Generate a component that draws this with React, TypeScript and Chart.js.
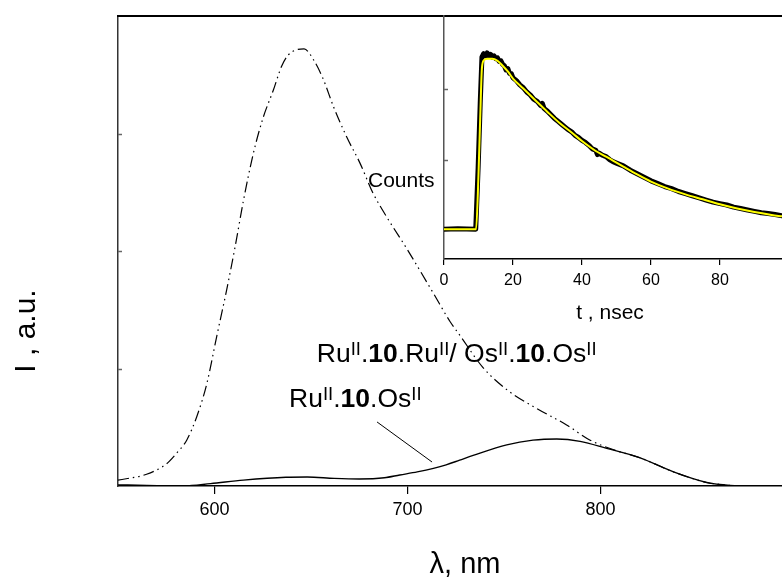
import React, { useEffect, useRef } from 'react';
import { Chart, registerables } from 'chart.js';
Chart.register(...registerables);

const FONT = '"Liberation Sans", Arial, Helvetica, sans-serif';

// Main spectrum: Ru(II).10.Ru(II) / Os(II).10.Os(II) mixture (dash-dot-dot)
const mixWavelength = [550, 564.8, 575.2, 580.4, 585.6, 590.8, 596, 601.1, 606.3, 610.6, 615, 620.1, 625.3, 630.5, 634.7, 638.3, 646.4, 651.2, 656.4, 661.6, 668.5, 675.3, 682.2, 689.2, 699.6, 713.4, 722, 727.2, 739, 751.4, 766.9, 782.4, 794.6, 808.3, 820.5, 837.8, 855, 867];
const mixIntensity = [0.05, 0.10, 0.19, 0.28, 0.39, 0.59, 0.87, 1.27, 1.67, 2.03, 2.43, 2.83, 3.14, 3.37, 3.57, 3.67, 3.72, 3.63, 3.46, 3.23, 2.97, 2.75, 2.49, 2.29, 2.02, 1.64, 1.40, 1.28, 1.01, 0.82, 0.66, 0.52, 0.39, 0.30, 0.24, 0.12, 0.03, 0.005];

// Main spectrum: Ru(II).10.Os(II) (solid)
const ruOsWavelength = [550, 565, 584, 598, 615, 637, 648, 662, 675, 688, 696, 705, 713.4, 720, 727, 734, 751.4, 765, 777.3, 789.4, 803.2, 820.5, 837.8, 855, 867, 880, 894];
const ruOsIntensity = [0.01, 0.005, 0.0, 0.02, 0.05, 0.074, 0.076, 0.065, 0.06, 0.07, 0.094, 0.12, 0.15, 0.18, 0.22, 0.26, 0.35, 0.39, 0.40, 0.38, 0.32, 0.24, 0.12, 0.03, 0.005, 0, 0];

const mainXTicks = [600, 700, 800];
const mainYTicks = [1, 2, 3];

// Inset: decay, fit (yellow)
const fitTime = [0, 9.3, 10, 10.5, 11, 11.6, 12.5, 14, 15.5, 17, 18.5, 20, 23, 27, 30, 33.6, 37, 40, 44, 47, 52, 56, 60, 65, 70, 75, 80, 85, 90, 95, 98];
const fitCounts = [0.03, 0.03, 0.8, 1.6, 2.3, 2.41, 2.43, 2.43, 2.40, 2.33, 2.25, 2.15, 2.01, 1.82, 1.68, 1.52, 1.39, 1.27, 1.13, 1.05, 0.91, 0.80, 0.70, 0.60, 0.52, 0.45, 0.38, 0.32, 0.27, 0.23, 0.21];

// Inset: decay, measured counts (black)
const dataTime = [0, 4, 9.2, 9.9, 10.5, 11, 11.5, 12, 12.5, 13, 13.5, 14, 14.5, 15, 15.5, 16, 16.5, 17, 17.5, 18, 18.5, 19, 19.5, 20, 21, 22, 23, 24, 25, 26, 27, 28, 28.5, 29, 30, 31, 32, 33, 34, 35, 36, 37, 38, 39, 40, 41, 42, 43, 44, 44.5, 45, 46, 47, 48, 49, 50, 52, 54, 56, 58, 60, 62, 64, 66, 68, 70, 72, 74, 76, 78, 80, 82, 84, 86, 88, 90, 92, 94, 96, 98];
const dataCounts = [0.03, 0.035, 0.03, 0.9, 1.8, 2.45, 2.50, 2.47, 2.51, 2.46, 2.49, 2.45, 2.47, 2.43, 2.44, 2.39, 2.40, 2.35, 2.33, 2.27, 2.29, 2.22, 2.22, 2.16, 2.12, 2.06, 2.02, 1.96, 1.92, 1.86, 1.83, 1.77, 1.80, 1.73, 1.69, 1.64, 1.59, 1.55, 1.51, 1.47, 1.43, 1.40, 1.35, 1.32, 1.28, 1.25, 1.21, 1.16, 1.14, 1.08, 1.10, 1.07, 1.05, 1.01, 0.98, 0.96, 0.92, 0.86, 0.81, 0.76, 0.71, 0.67, 0.63, 0.60, 0.56, 0.53, 0.50, 0.47, 0.44, 0.41, 0.39, 0.37, 0.34, 0.32, 0.30, 0.28, 0.26, 0.25, 0.235, 0.22];

const insetXTicks = [0, 20, 40, 60, 80];
const insetYTicks = [1, 2];

type Seg = { t: string; sup?: boolean; bold?: boolean };
const mixLabel: Seg[] = [
  { t: 'Ru' }, { t: 'II', sup: true }, { t: '.' }, { t: '10', bold: true }, { t: '.Ru' }, { t: 'II', sup: true },
  { t: '/ Os' }, { t: 'II', sup: true }, { t: '.' }, { t: '10', bold: true }, { t: '.Os' }, { t: 'II', sup: true },
];
const ruOsLabel: Seg[] = [
  { t: 'Ru' }, { t: 'II', sup: true }, { t: '.' }, { t: '10', bold: true }, { t: '.Os' }, { t: 'II', sup: true },
];
// label anchors in data coordinates (wavelength, intensity)
const mixLabelAt = { x: 653, y: 1.055 };
const ruOsLabelAt = { x: 638.6, y: 0.672 };
const leaderFrom = { x: 684.2, y: 0.545 };
const leaderTo = { x: 712.7, y: 0.204 };

const W = 782;
const H = 577;

function toXY(xs: number[], ys: number[]) {
  return xs.map((x, i) => ({ x, y: ys[i] }));
}

function drawRich(ctx: CanvasRenderingContext2D, x: number, y: number, segs: Seg[], F: number, S: number) {
  let cx = x;
  ctx.textAlign = 'left';
  ctx.textBaseline = 'alphabetic';
  for (const s of segs) {
    const size = s.sup ? S : F;
    ctx.font = `${s.bold ? 'bold ' : ''}${size}px ${FONT}`;
    ctx.fillText(s.t, cx, s.sup ? y - 7 : y);
    cx += ctx.measureText(s.t).width;
  }
}

export default function App() {
  const mainRef = useRef<HTMLCanvasElement>(null);
  const insetRef = useRef<HTMLCanvasElement>(null);

  useEffect(() => {
    const mainPlugin = {
      id: 'mainDecor',
      afterDraw(chart: any) {
        const ctx: CanvasRenderingContext2D = chart.ctx;
        const ca = chart.chartArea;
        const xs = chart.scales.x;
        const ys = chart.scales.y;
        ctx.save();
        // top frame line
        ctx.strokeStyle = '#000';
        ctx.lineWidth = 2;
        ctx.beginPath();
        ctx.moveTo(ca.left - 1, ca.top);
        ctx.lineTo(ca.right, ca.top);
        ctx.stroke();
        // inward y ticks
        ctx.strokeStyle = '#666';
        ctx.lineWidth = 1.5;
        for (const v of mainYTicks) {
          const py = Math.round(ys.getPixelForValue(v)) + 0.5;
          ctx.beginPath();
          ctx.moveTo(ca.left, py);
          ctx.lineTo(ca.left + 4, py);
          ctx.stroke();
        }
        // leader line
        ctx.strokeStyle = '#000';
        ctx.lineWidth = 1;
        ctx.beginPath();
        ctx.moveTo(xs.getPixelForValue(leaderFrom.x), ys.getPixelForValue(leaderFrom.y));
        ctx.lineTo(xs.getPixelForValue(leaderTo.x), ys.getPixelForValue(leaderTo.y));
        ctx.stroke();
        // labels
        ctx.fillStyle = '#000';
        drawRich(ctx, xs.getPixelForValue(mixLabelAt.x), ys.getPixelForValue(mixLabelAt.y), mixLabel, 26.5, 18.5);
        drawRich(ctx, xs.getPixelForValue(ruOsLabelAt.x), ys.getPixelForValue(ruOsLabelAt.y), ruOsLabel, 26.5, 18.5);
        // axis titles
        ctx.font = `29px ${FONT}`;
        ctx.textAlign = 'center';
        ctx.textBaseline = 'alphabetic';
        ctx.fillText('λ, nm', ca.left + 347, ca.bottom + 87);
        ctx.save();
        ctx.translate(35, ca.top + 315);
        ctx.rotate(-Math.PI / 2);
        ctx.font = `30px ${FONT}`;
        ctx.fillText('I , a.u.', 0, 0);
        ctx.restore();
        ctx.restore();
      },
    };

    const main = new Chart(mainRef.current!, {
      type: 'line',
      data: {
        datasets: [
          {
            data: toXY(mixWavelength, mixIntensity),
            borderColor: '#000',
            borderWidth: 1.2,
            borderDash: [11, 4, 1.5, 4, 1.5, 4],
            pointRadius: 0,
            cubicInterpolationMode: 'monotone',
            fill: false,
          },
          {
            data: toXY(ruOsWavelength, ruOsIntensity),
            borderColor: '#000',
            borderWidth: 1.4,
            pointRadius: 0,
            cubicInterpolationMode: 'monotone',
            fill: false,
          },
        ],
      },
      options: {
        responsive: false,
        animation: false,
        layout: { padding: { left: 0, top: 16, right: 0, bottom: 0 } },
        plugins: { legend: { display: false }, tooltip: { enabled: false }, title: { display: false } },
        scales: {
          x: {
            type: 'linear',
            min: 550,
            max: 894,
            afterBuildTicks: (s: any) => {
              s.ticks = mainXTicks.map((v) => ({ value: v }));
            },
            afterFit: (s: any) => {
              s.height = 91;
            },
            grid: { drawOnChartArea: false, drawTicks: true, tickLength: 8, color: '#000', lineWidth: 1.2 },
            border: { display: true, color: '#000', width: 1.5 },
            ticks: { color: '#000', font: { family: FONT, size: 18 }, padding: 5, maxRotation: 0, autoSkip: false },
          },
          y: {
            type: 'linear',
            min: 0,
            max: 4,
            afterFit: (s: any) => {
              s.width = 118;
            },
            ticks: { display: false },
            grid: { display: false },
            border: { display: true, color: '#333', width: 1.5 },
          },
        },
      },
      plugins: [mainPlugin],
    } as any);

    const insetPlugin = {
      id: 'insetDecor',
      afterDraw(chart: any) {
        const ctx: CanvasRenderingContext2D = chart.ctx;
        const ca = chart.chartArea;
        const ys = chart.scales.y;
        ctx.save();
        ctx.strokeStyle = '#666';
        ctx.lineWidth = 1.5;
        for (const v of insetYTicks) {
          const py = Math.round(ys.getPixelForValue(v)) + 0.5;
          ctx.beginPath();
          ctx.moveTo(ca.left, py);
          ctx.lineTo(ca.left + 4, py);
          ctx.stroke();
        }
        ctx.fillStyle = '#000';
        ctx.font = `21px ${FONT}`;
        ctx.textAlign = 'left';
        ctx.textBaseline = 'alphabetic';
        ctx.fillText('Counts', ca.left - 76, ca.top + 171);
        ctx.textAlign = 'center';
        ctx.fillText('t , nsec', ca.left + 166, ca.bottom + 60);
        ctx.restore();
      },
    };

    const inset = new Chart(insetRef.current!, {
      type: 'line',
      data: {
        datasets: [
          {
            data: toXY(fitTime, fitCounts),
            borderColor: '#ffff00',
            borderWidth: 2,
            pointRadius: 0,
            cubicInterpolationMode: 'monotone',
            fill: false,
          },
          {
            data: toXY(dataTime, dataCounts),
            borderColor: '#000',
            borderWidth: 5,
            borderJoinStyle: 'round',
            borderCapStyle: 'round',
            pointRadius: 0,
            tension: 0,
            fill: false,
          },
        ],
      },
      options: {
        responsive: false,
        animation: false,
        layout: { padding: { left: 444, top: 16, right: 0, bottom: 258 } },
        plugins: { legend: { display: false }, tooltip: { enabled: false }, title: { display: false } },
        scales: {
          x: {
            type: 'linear',
            min: 0,
            max: 98,
            afterBuildTicks: (s: any) => {
              s.ticks = insetXTicks.map((v) => ({ value: v }));
            },
            afterFit: (s: any) => {
              s.height = 60;
            },
            grid: { drawOnChartArea: false, drawTicks: true, tickLength: 6, color: '#000', lineWidth: 1.2 },
            border: { display: true, color: '#000', width: 1.5 },
            ticks: { color: '#000', font: { family: FONT, size: 16 }, padding: 6, maxRotation: 0, autoSkip: false },
          },
          y: {
            type: 'linear',
            min: -0.39,
            max: 3.03,
            afterFit: (s: any) => {
              s.width = 0;
            },
            ticks: { display: false },
            grid: { display: false },
            border: { display: true, color: '#555', width: 1.5 },
          },
        },
      },
      plugins: [insetPlugin],
    } as any);

    return () => {
      main.destroy();
      inset.destroy();
    };
  }, []);

  return (
    <div style={{ position: 'fixed', left: 0, top: 0, width: W, height: H, background: '#fff', overflow: 'hidden' }}>
      <canvas ref={mainRef} width={W} height={H} style={{ position: 'absolute', left: 0, top: 0 }} />
      <canvas ref={insetRef} width={W} height={H} style={{ position: 'absolute', left: 0, top: 0 }} />
    </div>
  );
}
